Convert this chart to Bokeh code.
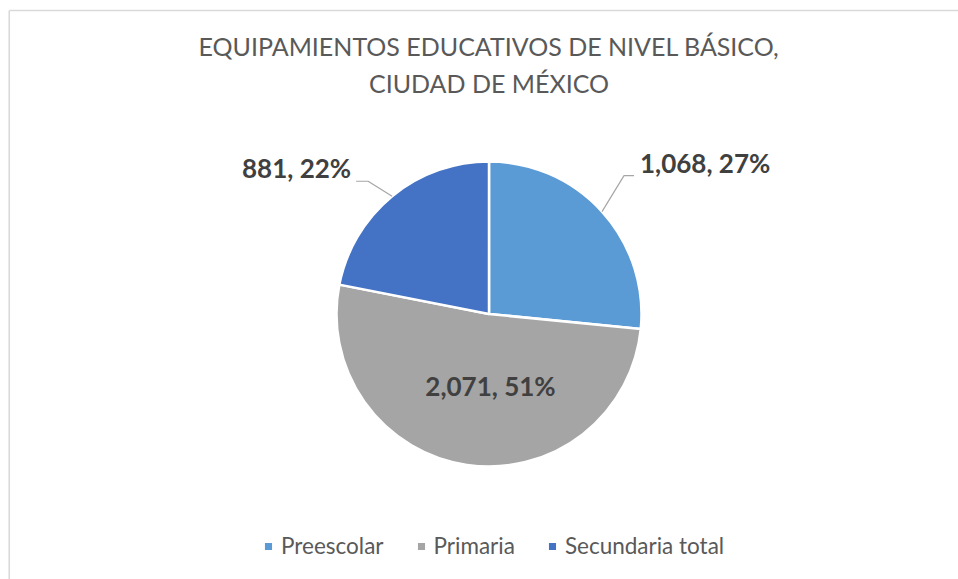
import math
from bokeh.plotting import figure
from bokeh.models import ColumnDataSource, Range1d, Legend, LegendItem
from bokeh.core.properties import value
from bokeh.embed import file_html
from bokeh.resources import INLINE

TITLE_LINES = ["EQUIPAMIENTOS EDUCATIVOS DE NIVEL BÁSICO,", "CIUDAD DE MÉXICO"]
CATEGORIES = ["Preescolar", "Primaria", "Secundaria total"]
VALUES = [1068, 2071, 881]
PERCENTS = [27, 51, 22]
COLORS = ["#5B9BD5", "#A5A5A5", "#4472C4"]

W, H = 958, 579
p = figure(width=W, height=H, x_range=Range1d(0, W), y_range=Range1d(0, H),
           output_backend="svg", toolbar_location=None,
           x_axis_type=None, y_axis_type=None, min_border=0)
p.grid.visible = False
p.outline_line_color = None
p.background_fill_color = "white"
p.border_fill_color = "white"

# chart border (left/top visible)
p.segment(x0=[8.75, 8.75], y0=[569, 569], x1=[W + 10, 8.75], y1=[569, -10],
          line_color="#D9D9D9", line_width=1.6)

# title
p.text(x=[488.5, 488.5], y=[533.3, 496.7], text=TITLE_LINES,
       text_font=value("Lato"), text_font_size="25px", text_color="#595959",
       text_align="center", text_baseline="alphabetic")

# pie
cx, cy, r = 488.5, 265.5, 152.5
total = float(sum(VALUES))
cum = [0.0]
for v in VALUES:
    cum.append(cum[-1] + v / total)
starts = [math.pi / 2 - 2 * math.pi * cum[i] for i in range(len(VALUES))]
ends = [math.pi / 2 - 2 * math.pi * cum[i + 1] for i in range(len(VALUES))]
src = ColumnDataSource(dict(cat=CATEGORIES, val=VALUES, start=starts, end=ends, color=COLORS))
wr = p.wedge(x=cx, y=cy, radius=r, start_angle="start", end_angle="end", direction="clock",
             fill_color="color", line_color="white", line_width=2.5, source=src)

labels = [f"{v:,}, {pc}%" for v, pc in zip(VALUES, PERCENTS)]
mids = [(cum[i] + cum[i + 1]) / 2 * 2 * math.pi for i in range(len(VALUES))]  # clockwise from top

# leader lines for outside labels (Preescolar, Secundaria)
lx, ly, txs, tys, ttext, talign = [], [], [], [], [], []
for i, (ex, ey, hx) in {0: (22, 36, 10), 2: (-24, 15, -12)}.items():
    sx = cx + r * math.sin(mids[i])
    sy = cy + r * math.cos(mids[i])
    bx, by = sx + ex, sy + ey
    endx = bx + hx
    lx.append([sx, bx, endx])
    ly.append([sy, by, by])
    if hx > 0:
        txs.append(endx + 6)
        talign.append("left")
    else:
        txs.append(endx - 5)
        talign.append("right")
    tys.append(by + 13)
    ttext.append(labels[i])
p.multi_line(xs=lx, ys=ly, line_color="#A6A6A6", line_width=1.2)
lsrc = ColumnDataSource(dict(x=txs, y=tys, t=ttext, a=talign))
p.text(x="x", y="y", text="t", text_align="a", source=lsrc,
       text_font=value("Lato"), text_font_style="bold", text_font_size="26px",
       text_color="#404040", text_baseline="alphabetic")
# inner label (Primaria)
p.text(x=[cx + 1.5], y=[cy - 72], text=[labels[1]], text_align="center",
       text_font=value("Lato"), text_font_style="bold", text_font_size="26px",
       text_color="#404040", text_baseline="alphabetic")

legend = Legend(items=[LegendItem(label=c, renderers=[wr], index=i) for i, c in enumerate(CATEGORIES)],
                orientation="horizontal", location=(262, 20),
                glyph_width=12, glyph_height=12, label_standoff=7, spacing=31,
                padding=0, margin=0, border_line_color=None, background_fill_alpha=0,
                label_text_font="Lato", label_text_font_size="22.5px", label_text_color="#595959")
p.add_layout(legend)

open("out.html", "w").write(file_html(p, INLINE))
